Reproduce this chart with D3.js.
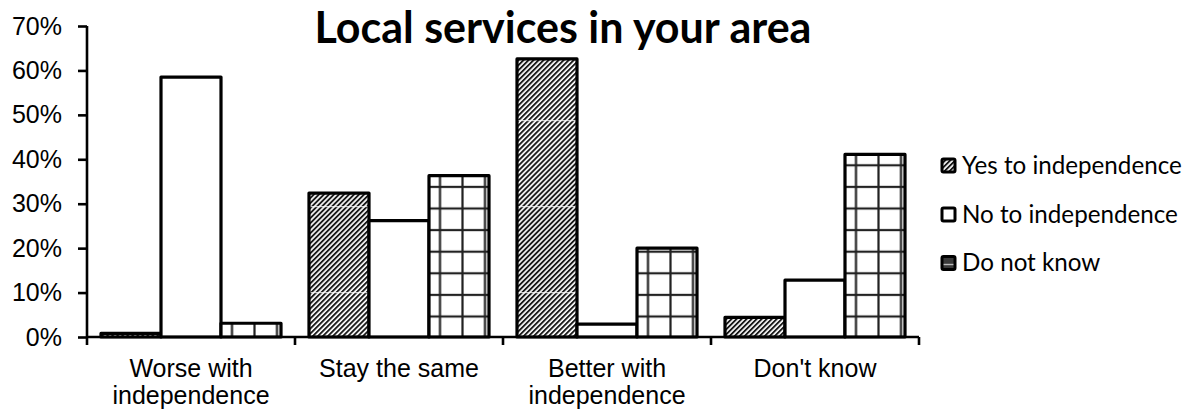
<!DOCTYPE html>
<html>
<head>
<meta charset="utf-8">
<script src="https://cdn.jsdelivr.net/npm/d3@7"></script>
<style>
  body { margin: 0; background: #fff; }
  svg { display: block; }
</style>
</head>
<body>
<svg id="chart" width="1198" height="412"></svg>
<script>
// ---- data ----
const chartTitle = "Local services in your area";
const categories = ["Worse with independence", "Stay the same", "Better with independence", "Don't know"];
const seriesNames = ["Yes to independence", "No to independence", "Do not know"];
const yesValues = [0.008, 0.324, 0.626, 0.044];
const noValues = [0.585, 0.262, 0.029, 0.128];
const dontKnowValues = [0.031, 0.363, 0.200, 0.411];
const yTickValues = [0, 0.1, 0.2, 0.3, 0.4, 0.5, 0.6, 0.7];

const seriesValues = [yesValues, noValues, dontKnowValues];
const fills = ["hatch", "plain", "grid"];

// ---- layout ----
const W = 1198, H = 412;
const plot = { left: 87, right: 919, top: 26, bottom: 337 };

const svg = d3.select("#chart");
const defs = svg.append("defs");

const x0 = d3.scaleBand().domain(categories).range([plot.left, plot.right]).paddingInner(0).paddingOuter(0);
const x1 = d3.scaleBand().domain(seriesNames).range([0, x0.bandwidth()]).paddingInner(0).paddingOuter(0.2333);
const y = d3.scaleLinear().domain([0, 0.7]).range([plot.bottom, plot.top]);

// diagonal hatch for the "Yes" series
const hatch = defs.append("pattern")
  .attr("id", "hatch")
  .attr("patternUnits", "userSpaceOnUse")
  .attr("width", 3.55).attr("height", 10)
  .attr("patternTransform", "rotate(45)");
hatch.append("rect").attr("width", 3.55).attr("height", 10).attr("fill", "#fff");
hatch.append("rect").attr("width", 1.9).attr("height", 10).attr("fill", "#1a1a1a");

// faint tile seams that run across the hatched bars
const seam = defs.append("pattern")
  .attr("id", "seam")
  .attr("patternUnits", "userSpaceOnUse")
  .attr("x", 0).attr("y", y(0) - 44 - 1)
  .attr("width", 10).attr("height", 86);
seam.append("rect").attr("width", 10).attr("height", 1.2).attr("fill", "rgba(255,255,255,0.75)");

// square grid for the "Do not know" series, anchored on each bar
function gridPattern(id, ox) {
  const pw = 22.5, ph = 21.6;
  const p = defs.append("pattern")
    .attr("id", id)
    .attr("patternUnits", "userSpaceOnUse")
    .attr("x", ox - pw / 2).attr("y", y(0) - 20.5 - ph / 2)
    .attr("width", pw).attr("height", ph);
  p.append("rect").attr("width", pw).attr("height", ph).attr("fill", "#fff");
  p.append("line").attr("x1", pw / 2).attr("x2", pw / 2).attr("y1", 0).attr("y2", ph)
    .attr("stroke", "#222").attr("stroke-width", 2.2);
  p.append("line").attr("x1", 0).attr("x2", pw).attr("y1", ph / 2).attr("y2", ph / 2)
    .attr("stroke", "#222").attr("stroke-width", 2.2);
}

// ---- bars ----
const barData = [];
categories.forEach((c, ci) => {
  seriesNames.forEach((s, si) => {
    barData.push({ cat: c, ci, series: s, si, value: seriesValues[si][ci] });
  });
});

const bars = svg.append("g").attr("class", "bars");
barData.forEach(d => {
  const bx = x0(d.cat) + x1(d.series);
  const bw = x1.bandwidth();
  const by = y(d.value);
  const bh = y(0) - y(d.value);
  const g = bars.append("g");
  let fill = "#fff";
  if (fills[d.si] === "hatch") fill = "url(#hatch)";
  if (fills[d.si] === "grid") {
    const id = "grid-" + d.ci;
    gridPattern(id, bx + 11);
    fill = "url(#" + id + ")";
  }
  g.append("rect").attr("x", bx).attr("y", by).attr("width", bw).attr("height", bh).attr("fill", fill);
  if (fills[d.si] === "hatch") {
    g.append("rect").attr("x", bx).attr("y", by).attr("width", bw).attr("height", bh).attr("fill", "url(#seam)");
  }
  g.append("rect").attr("x", bx).attr("y", by).attr("width", bw).attr("height", bh)
    .attr("fill", "none").attr("stroke", "#000").attr("stroke-width", 3.2)
    .attr("stroke-linejoin", "round");
});

// ---- y axis ----
const yAxis = svg.append("g")
  .attr("transform", `translate(${plot.left},0)`)
  .call(d3.axisLeft(y).tickValues(yTickValues).tickFormat(d3.format(".0%")).tickSize(9).tickPadding(16));
yAxis.select(".domain").attr("stroke", "#000").attr("stroke-width", 2.6)
  .attr("d", `M0,${plot.top}V${plot.bottom}`);
yAxis.selectAll(".tick line").attr("stroke", "#000").attr("stroke-width", 2.6);
yAxis.selectAll(".tick text")
  .attr("font-family", "'Liberation Sans', Arial, sans-serif")
  .attr("font-size", 25).attr("fill", "#000");

// ---- x axis: baseline, boundary ticks, wrapped labels ----
const xAxis = svg.append("g").attr("transform", `translate(0,${plot.bottom})`)
  .call(d3.axisBottom(x0).tickSize(0).tickPadding(22));
xAxis.select(".domain").attr("stroke", "#000").attr("stroke-width", 2.6)
  .attr("d", `M${plot.left},0H${plot.right}`);

const boundaries = categories.map(c => x0(c)).concat([x0(categories[categories.length - 1]) + x0.bandwidth()]);
xAxis.selectAll(".bound").data(boundaries).join("line")
  .attr("class", "bound")
  .attr("x1", d => d).attr("x2", d => d).attr("y1", 0).attr("y2", 8)
  .attr("stroke", "#000").attr("stroke-width", 2.6);

xAxis.selectAll(".tick text")
  .attr("font-family", "'Liberation Sans', Arial, sans-serif")
  .attr("font-size", 25).attr("fill", "#000")
  .each(function (d) {
    const t = d3.select(this);
    const words = d.split(" ");
    const maxW = x0.bandwidth() - 8;
    t.text(null);
    let lines = [], cur = [];
    words.forEach(w => {
      const test = cur.concat([w]).join(" ");
      t.text(test);
      if (this.getComputedTextLength() > maxW && cur.length) {
        lines.push(cur.join(" "));
        cur = [w];
      } else {
        cur.push(w);
      }
    });
    lines.push(cur.join(" "));
    t.text(null);
    lines.forEach((ln, i) => {
      t.append("tspan").attr("x", 0).attr("dy", i === 0 ? "0.71em" : 27).text(ln);
    });
  });

// ---- title ----
const title = svg.append("text")
  .attr("x", 563).attr("y", 43)
  .attr("text-anchor", "middle")
  .attr("font-family", "Lato, 'Open Sans', sans-serif")
  .attr("font-weight", "bold")
  .attr("font-size", 40)
  .attr("fill", "#000")
  .text(chartTitle);
{
  const w = title.node().getComputedTextLength();
  title.attr("font-size", 40 * 497 / w);
}

// ---- legend ----
const legend = svg.append("g").attr("class", "legend");
const legendY = [165.5, 214.5, 263];
const legendFont = "Lato, 'Open Sans', sans-serif";

const probe = svg.append("text").attr("font-family", legendFont).attr("font-size", 25).text(seriesNames[1]);
const legendSize = 25 * 216 / probe.node().getComputedTextLength();
probe.remove();

seriesNames.forEach((s, i) => {
  const g = legend.append("g").attr("transform", `translate(0,${legendY[i]})`);
  let fill = "#fff";
  if (fills[i] === "hatch") fill = "url(#hatch)";
  if (fills[i] === "grid") fill = "#3a3a3a";
  g.append("rect").attr("x", 942).attr("y", -6.5).attr("width", 13).attr("height", 13)
    .attr("fill", fill);
  if (fills[i] === "grid") {
    g.append("line").attr("x1", 942).attr("x2", 955).attr("y1", 1.5).attr("y2", 1.5)
      .attr("stroke", "#bbb").attr("stroke-width", 1.4);
  }
  g.append("rect").attr("x", 942).attr("y", -6.5).attr("width", 13).attr("height", 13)
    .attr("fill", "none").attr("stroke", "#000").attr("stroke-width", 3).attr("rx", 1.5);
  g.append("text").attr("x", 962).attr("y", 0).attr("dy", "0.35em")
    .attr("font-family", legendFont).attr("font-size", legendSize).attr("fill", "#000")
    .text(s);
});
</script>
</body>
</html>
